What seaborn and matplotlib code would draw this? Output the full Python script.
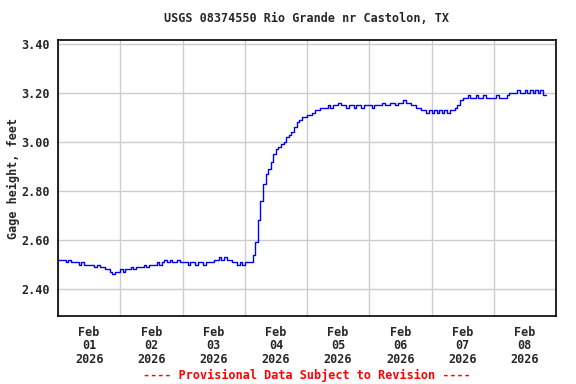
import numpy as np
import pandas as pd
import matplotlib
matplotlib.use("Agg")
import matplotlib.pyplot as plt
import matplotlib.dates as mdates
import seaborn as sns

# hourly gage height readings, Feb 1 00:00 onward (feet)
feb01 = [2.52, 2.52, 2.52, 2.51, 2.52, 2.51, 2.51, 2.51, 2.50, 2.51, 2.50, 2.50,
         2.50, 2.50, 2.49, 2.50, 2.49, 2.49, 2.48, 2.48, 2.47, 2.46, 2.47, 2.47]
feb02 = [2.48, 2.47, 2.48, 2.48, 2.49, 2.48, 2.49, 2.49, 2.49, 2.50, 2.49, 2.50,
         2.50, 2.50, 2.51, 2.50, 2.51, 2.52, 2.51, 2.52, 2.51, 2.51, 2.52, 2.51]
feb03 = [2.51, 2.51, 2.50, 2.51, 2.51, 2.50, 2.51, 2.51, 2.50, 2.51, 2.51, 2.51,
         2.52, 2.52, 2.53, 2.52, 2.53, 2.52, 2.52, 2.51, 2.51, 2.50, 2.51, 2.50]
feb04 = [2.51, 2.51, 2.51, 2.54, 2.59, 2.68, 2.76, 2.83, 2.87, 2.89, 2.92, 2.95,
         2.97, 2.98, 2.99, 3.00, 3.02, 3.03, 3.04, 3.06, 3.08, 3.09, 3.10, 3.10]
feb05 = [3.11, 3.11, 3.12, 3.13, 3.13, 3.14, 3.14, 3.14, 3.15, 3.14, 3.15, 3.15,
         3.16, 3.15, 3.15, 3.14, 3.15, 3.15, 3.14, 3.15, 3.15, 3.14, 3.15, 3.15]
feb06 = [3.15, 3.14, 3.15, 3.15, 3.15, 3.16, 3.15, 3.15, 3.16, 3.16, 3.15, 3.16,
         3.16, 3.17, 3.16, 3.16, 3.15, 3.15, 3.14, 3.14, 3.13, 3.13, 3.12, 3.13]
feb07 = [3.12, 3.13, 3.12, 3.13, 3.12, 3.13, 3.12, 3.13, 3.13, 3.14, 3.15, 3.17,
         3.18, 3.18, 3.19, 3.18, 3.18, 3.19, 3.18, 3.18, 3.19, 3.18, 3.18, 3.18]
feb08 = [3.18, 3.19, 3.18, 3.18, 3.18, 3.19, 3.20, 3.20, 3.20, 3.21, 3.20, 3.20,
         3.21, 3.20, 3.21, 3.20, 3.21, 3.20, 3.21, 3.19, 3.19]

heights = feb01 + feb02 + feb03 + feb04 + feb05 + feb06 + feb07 + feb08
times = pd.date_range("2026-02-01 00:00", periods=len(heights), freq="h")
df = pd.DataFrame({"time": times, "height": heights})

y_ticks = [2.40, 2.60, 2.80, 3.00, 3.20, 3.40]

sns.set_style("white")
plt.rcParams["font.family"] = ["DejaVu Sans Mono"]
plt.rcParams["font.weight"] = "bold"

fig = plt.figure(figsize=(5.76, 3.84), dpi=100)
ax = fig.add_axes([58 / 576, 1 - 316 / 384, 498 / 576, 276 / 384])

sns.lineplot(data=df, x="time", y="height", ax=ax, color="#0000ff",
             linewidth=1.0, drawstyle="steps-post")

ax.set_xlim(pd.Timestamp("2026-02-01"), pd.Timestamp("2026-02-09"))
ax.set_ylim(2.29, 3.416)

# day boundaries carry the grid, noon ticks carry the labels
ax.xaxis.set_major_locator(mdates.DayLocator())
ax.xaxis.set_major_formatter(plt.NullFormatter())
ax.xaxis.set_minor_locator(mdates.HourLocator(byhour=[12]))
ax.xaxis.set_minor_formatter(mdates.DateFormatter("%b\n%d\n%Y"))
ax.set_yticks(y_ticks)
ax.set_yticklabels([f"{v:.2f}" for v in y_ticks])

ax.grid(True, which="major", color="#cccccc", linewidth=1.0)
ax.tick_params(axis="both", which="both", length=0, labelsize=8.5)
ax.tick_params(axis="x", which="minor", pad=7)
ax.tick_params(axis="y", pad=6)
for lbl in ax.get_xticklabels(minor=True):
    lbl.set_fontweight("bold")
    lbl.set_linespacing(1.05)
for lbl in ax.get_yticklabels():
    lbl.set_fontweight("bold")

for s in ax.spines.values():
    s.set_color("black")
    s.set_linewidth(1.2)

ax.set_xlabel("")
ax.set_ylabel("Gage height, feet", fontsize=8.5, fontweight="bold", labelpad=1)
ax.set_title("USGS 08374550 Rio Grande nr Castolon, TX", fontsize=8.5,
             fontweight="bold", pad=13)

fig.text(307 / 576, 1 - 375 / 384, "---- Provisional Data Subject to Revision ----",
         color="red", fontsize=8.5, fontweight="bold", ha="center", va="center")

fig.savefig("out.png", dpi=100)
